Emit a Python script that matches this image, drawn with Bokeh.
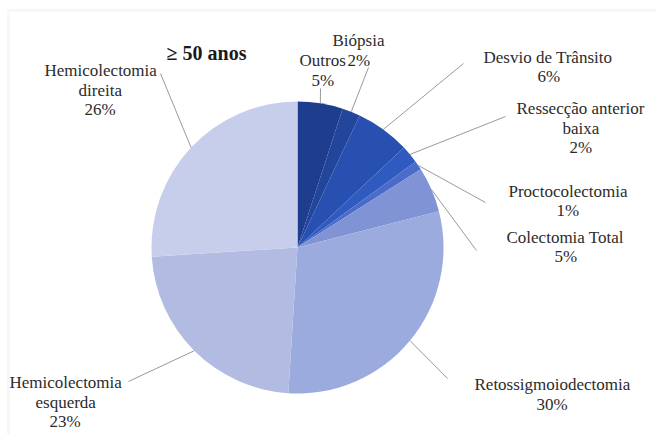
import numpy as np
from bokeh.plotting import figure
from bokeh.models import Range1d, BoxAnnotation, ColumnDataSource
from bokeh.core.properties import value
from bokeh.embed import file_html
from bokeh.resources import INLINE

# ---- data ----
categories = ["Outros", "Biópsia", "Desvio de Trânsito", "Ressecção anterior baixa",
              "Proctocolectomia", "Colectomia Total", "Retossigmoiodectomia",
              "Hemicolectomia esquerda", "Hemicolectomia direita"]
percent = [5, 2, 6, 2, 1, 5, 30, 23, 26]
label_lines = [["Outros"], ["Biópsia"], ["Desvio de Trânsito"],
               ["Ressecção anterior", "baixa"], ["Proctocolectomia"],
               ["Colectomia Total"], ["Retossigmoiodectomia"],
               ["Hemicolectomia", "esquerda"], ["Hemicolectomia", "direita"]]
title_text = "≥ 50 anos"

# ---- style / layout ----
colors = ["#1f3d8e", "#23459c", "#2850b0", "#2f5bc0", "#4b6bcb",
          "#8093d4", "#9cabdd", "#b2bce3", "#c7ceeb"]
W, H = 656, 434
cx, cy, R = 297, H - 247, 146
label_pos = [(322, 60), (358, 40), (548, 57), (580, 108), (567, 191),
             (565, 237), (552, 384), (65, 382), (100, 70)]
LINE_STEP = 19.5
FS = 17
leader_end = [(320, 88), (368, 67), (463, 63), (505, 116), (485, 202),
              (476, 250), (447, 378), (128, 381), (160, 73)]

# approximate serif advance widths (per 1000 em) for centring left-aligned text
ADV = {" ": 250, "%": 833, "B": 667, "C": 667, "D": 722, "H": 722, "O": 722,
       "P": 556, "R": 667, "T": 611, "a": 444, "b": 500, "c": 444, "d": 500,
       "e": 444, "g": 500, "i": 278, "l": 278, "m": 778, "n": 500, "o": 500,
       "p": 500, "q": 500, "r": 333, "s": 389, "t": 278, "u": 500, "v": 500,
       "x": 500, "ó": 500, "â": 444, "ç": 444, "ã": 444}


def text_w(s):
    return sum(ADV.get(ch, 500) for ch in s) * FS / 1000.0


vals = np.array(percent, dtype=float)
frac = vals / vals.sum()
cum_end = np.cumsum(frac)
cum_start = cum_end - frac
start_ang = np.pi / 2 - cum_end * 2 * np.pi
end_ang = np.pi / 2 - cum_start * 2 * np.pi
mid = np.pi / 2 - (cum_start + cum_end) / 2 * 2 * np.pi

p = figure(width=W, height=H, output_backend="svg", toolbar_location=None,
           x_range=Range1d(0, W), y_range=Range1d(0, H), min_border=0)
p.axis.visible = False
p.grid.visible = False
p.outline_line_color = None

# frame
p.add_layout(BoxAnnotation(left=8, right=W + 20, top=H - 10, bottom=-20,
                           fill_alpha=0, line_color="#e3e3e3", line_width=3))

src = ColumnDataSource(dict(start=start_ang, end=end_ang, color=colors))
p.wedge(x=cx, y=cy, radius=R, start_angle="start", end_angle="end",
        direction="anticlock", fill_color="color", line_color=None, source=src)

xs, ys = [], []
for m, (ex, ey) in zip(mid, leader_end):
    xs.append([cx + R * np.cos(m), ex])
    ys.append([cy + R * np.sin(m), H - ey])
p.multi_line(xs=xs, ys=ys, line_color="#9a9a9a", line_width=1)

for (x0, y0), lines, pc in zip(label_pos, label_lines, percent):
    all_lines = lines + [f"{pc}%"]
    for i, s in enumerate(all_lines):
        p.text(x=[int(round(x0 - text_w(s) / 2))],
               y=[int(round(H - (y0 + i * LINE_STEP)))], text=[s],
               text_font=value("serif"), text_font_style="normal",
               text_font_size=f"{FS}px", text_baseline="middle",
               text_color="#2b2b2b")

p.text(x=[206], y=[H - 52], text=[title_text], text_align="center",
       text_baseline="middle", text_font=value("Liberation Serif"),
       text_font_size="20px", text_font_style="bold", text_color="#1a1a1a")

open("out.html", "w").write(file_html(p, INLINE))
